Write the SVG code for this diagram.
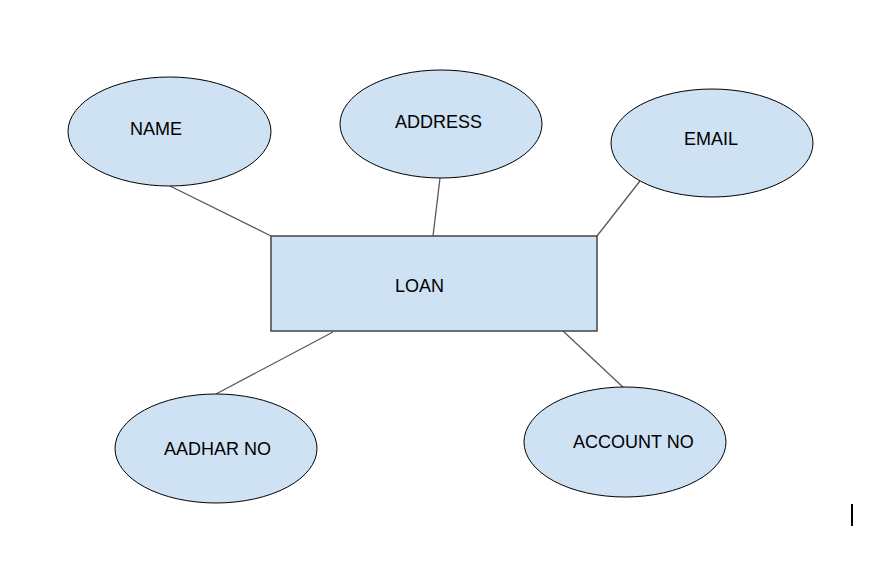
<svg xmlns="http://www.w3.org/2000/svg" width="891" height="571" viewBox="0 0 891 571">
<style>
.shape{fill:#cfe2f3;stroke:#000;stroke-width:1}
.box{fill:#cfe2f3;stroke:#444;stroke-width:1.5}
.lbl{font-family:"Liberation Sans",Arial,sans-serif;font-size:18px;fill:#000}
.conn line{stroke:#595959;stroke-width:1.3}
</style>
<rect width="891" height="571" fill="#fff"/>
<g class="conn" id="connectors">
<line x1="170" y1="186" x2="271" y2="236"/>
<line x1="440" y1="178" x2="433" y2="236"/>
<line x1="640" y1="181" x2="597" y2="236"/>
<line x1="333" y1="332" x2="216" y2="394"/>
<line x1="563" y1="331" x2="625" y2="389"/>
</g>
<g id="loan">
<rect class="box" x="271" y="236" width="326" height="95"/>
<text class="lbl" x="395" y="292">LOAN</text>
</g>
<g id="name">
<ellipse class="shape" cx="169.5" cy="131.5" rx="101.5" ry="54.5"/>
<text class="lbl" x="130" y="135">NAME</text>
</g>
<g id="address">
<ellipse class="shape" cx="441" cy="124" rx="101" ry="54"/>
<text class="lbl" x="395" y="127.5">ADDRESS</text>
</g>
<g id="email">
<ellipse class="shape" cx="712" cy="143" rx="101" ry="54"/>
<text class="lbl" x="684" y="144.5">EMAIL</text>
</g>
<g id="aadhar">
<ellipse class="shape" cx="216" cy="448.5" rx="101" ry="54.5"/>
<text class="lbl" x="164" y="455">AADHAR NO</text>
</g>
<g id="account">
<ellipse class="shape" cx="625" cy="442" rx="101" ry="55"/>
<text class="lbl" x="573" y="447.5">ACCOUNT NO</text>
</g>
<rect x="851" y="504" width="2" height="22" fill="#000"/>
</svg>
